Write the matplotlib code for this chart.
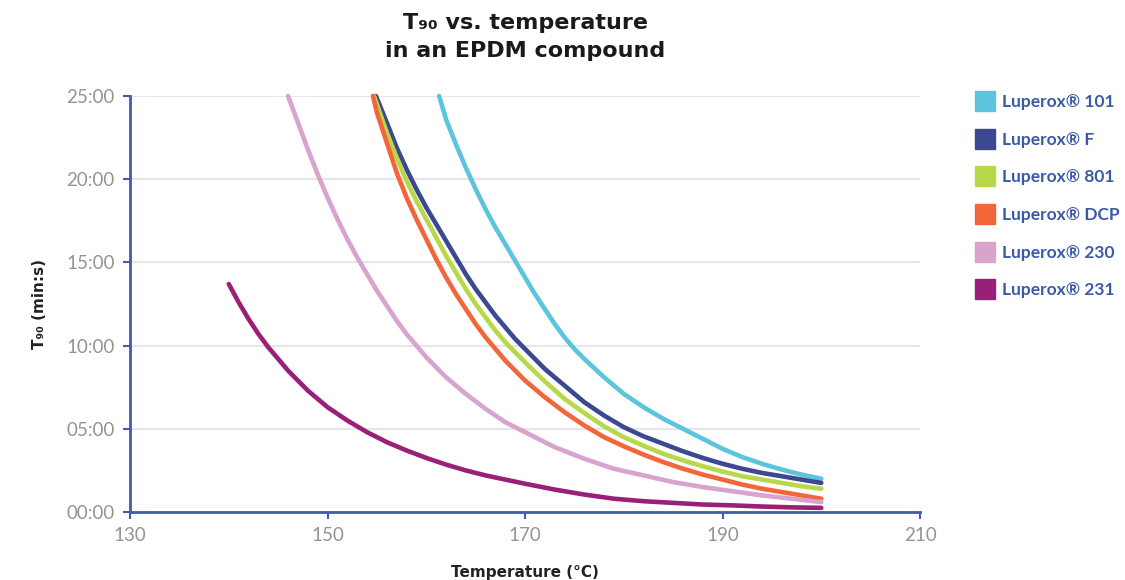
import matplotlib.pyplot as plt
from matplotlib.lines import Line2D
from matplotlib.ticker import FuncFormatter

# Datos (temperatura en °C, T90 en minutos)
names = ['Luperox® 101', 'Luperox® F', 'Luperox® 801', 'Luperox® DCP', 'Luperox® 230', 'Luperox® 231']
colors = ['#5cc4dc', '#3c4890', '#b8d84a', '#f2663a', '#d8a3cc', '#9a1f78']

temp_101 = [161.3, 162, 163, 164, 165, 166, 167, 168, 169, 170, 171, 172, 173, 174, 175, 176,
            178, 180, 182, 184, 186, 188, 190, 192, 194, 196, 198, 200]
t90_101 = [25, 23.6, 22.1, 20.7, 19.4, 18.2, 17.1, 16.1, 15.1, 14.1, 13.1, 12.2, 11.3, 10.5, 9.8, 9.2,
           8.1, 7.1, 6.3, 5.6, 5.0, 4.4, 3.8, 3.3, 2.9, 2.55, 2.25, 2.0]

temp_f = [154.9, 156, 157, 158, 159, 160, 161, 162, 163, 164, 165, 166, 167, 168, 169, 170,
          172, 174, 176, 178, 180, 182, 184, 186, 188, 190, 192, 194, 196, 198, 200]
t90_f = [25, 23.4, 21.9, 20.6, 19.4, 18.3, 17.3, 16.3, 15.3, 14.3, 13.4, 12.6, 11.8, 11.1, 10.4, 9.8,
         8.6, 7.6, 6.6, 5.8, 5.1, 4.55, 4.1, 3.65, 3.25, 2.9, 2.6, 2.35, 2.15, 1.95, 1.75]

temp_801 = [154.7, 156, 157, 158, 159, 160, 161, 162, 163, 164, 165, 166, 167, 168, 169, 170,
            172, 174, 176, 178, 180, 182, 184, 186, 188, 190, 192, 194, 196, 198, 200]
t90_801 = [25, 22.8, 21.3, 19.9, 18.7, 17.6, 16.5, 15.4, 14.4, 13.4, 12.5, 11.7, 10.9, 10.2, 9.6, 9.0,
           7.85, 6.8, 5.95, 5.15, 4.5, 3.98, 3.5, 3.1, 2.75, 2.43, 2.15, 1.95, 1.75, 1.55, 1.4]

temp_dcp = [154.6, 155, 156, 157, 158, 159, 160, 161, 162, 163, 164, 165, 166, 167, 168, 169, 170,
            172, 174, 176, 178, 180, 182, 184, 186, 188, 190, 192, 194, 196, 198, 200]
t90_dcp = [25, 24.0, 22.2, 20.4, 18.9, 17.6, 16.4, 15.2, 14.1, 13.1, 12.2, 11.3, 10.5, 9.8, 9.1, 8.5, 7.9,
           6.9, 6.0, 5.2, 4.5, 3.95, 3.45, 3.0, 2.6, 2.25, 1.95, 1.65, 1.4, 1.2, 1.0, 0.8]

temp_230 = [146, 147, 148, 149, 150, 151, 152, 153, 154, 155, 156, 157, 158, 159, 160,
            162, 164, 166, 168, 170, 173, 176, 179, 182, 185, 188, 191, 194, 197, 200]
t90_230 = [25, 23.4, 21.8, 20.3, 18.9, 17.6, 16.4, 15.3, 14.3, 13.3, 12.4, 11.5, 10.7, 10.0, 9.3,
           8.1, 7.1, 6.2, 5.4, 4.8, 3.9, 3.2, 2.6, 2.2, 1.8, 1.5, 1.25, 1.0, 0.8, 0.6]

temp_231 = [140, 141, 142, 143, 144, 145, 146, 147, 148, 150, 152, 154, 156, 158, 160, 162, 164, 166,
            168, 170, 173, 176, 179, 182, 185, 188, 191, 194, 197, 200]
t90_231 = [13.7, 12.6, 11.6, 10.7, 9.9, 9.2, 8.5, 7.9, 7.3, 6.3, 5.5, 4.8, 4.2, 3.7, 3.25, 2.85, 2.5, 2.2,
           1.95, 1.7, 1.35, 1.05, 0.8, 0.65, 0.55, 0.45, 0.4, 0.33, 0.28, 0.25]

series_temp = [temp_101, temp_f, temp_801, temp_dcp, temp_230, temp_231]
series_t90 = [t90_101, t90_f, t90_801, t90_dcp, t90_230, t90_231]

xticks = [130, 150, 170, 190, 210]
yticks = [0, 5, 10, 15, 20, 25]

azul = '#3f5cae'

fig = plt.figure(figsize=(11.25, 5.8), dpi=100)
ax = fig.add_axes([0.1156, 0.1172, 0.7022, 0.7173])

# Dibujar las curvas
for x, y, c in zip(series_temp, series_t90, colors):
    ax.plot(x, y, color=c, lw=3.3, solid_capstyle='round', solid_joinstyle='round',
            clip_on=False, zorder=3)

ax.set_xlim(130, 210)
ax.set_ylim(0, 25)
ax.set_xticks(xticks)
ax.set_yticks(yticks)
ax.yaxis.set_major_formatter(FuncFormatter(lambda v, p: f'{int(v):02d}:00'))

ax.grid(axis='y', color='#e2e2e6', lw=1.2)
ax.set_axisbelow(True)
for s in ['top', 'right']:
    ax.spines[s].set_visible(False)
for s in ['left', 'bottom']:
    ax.spines[s].set_color(azul)
    ax.spines[s].set_linewidth(2)
ax.tick_params(colors=azul, width=1.5, length=5, labelcolor='#949494', labelsize=13.5, pad=6)
for lab in ax.get_xticklabels() + ax.get_yticklabels():
    lab.set_family(['Lato', 'DejaVu Sans'])
    lab.set_weight('normal')

ax.set_xlabel('Temperature (°C)', fontsize=11, fontweight='bold', color='#222222', labelpad=15)
ax.set_ylabel('T₉₀ (min:s)', fontsize=11, fontweight='bold', color='#222222', labelpad=14)

fig.text(0.4667, 0.978, 'T₉₀ vs. temperature\nin an EPDM compound', ha='center', va='top',
         fontsize=16, fontweight='bold', color='#1a1a1a', linespacing=1.5)

# Leyenda a la derecha
handles = [Line2D([], [], marker='s', ls='', markersize=14, color=c) for c in colors]
leg = fig.legend(handles, names, loc='upper left', bbox_to_anchor=(0.862, 0.85), frameon=False,
                 labelspacing=1.25, handletextpad=0.45, handlelength=1.0, borderaxespad=0,
                 prop={'family': ['Lato', 'DejaVu Sans'], 'weight': 'bold', 'size': 12.5})
for t in leg.get_texts():
    t.set_color('#3a5aa8')

plt.savefig('out.png', dpi=100)
